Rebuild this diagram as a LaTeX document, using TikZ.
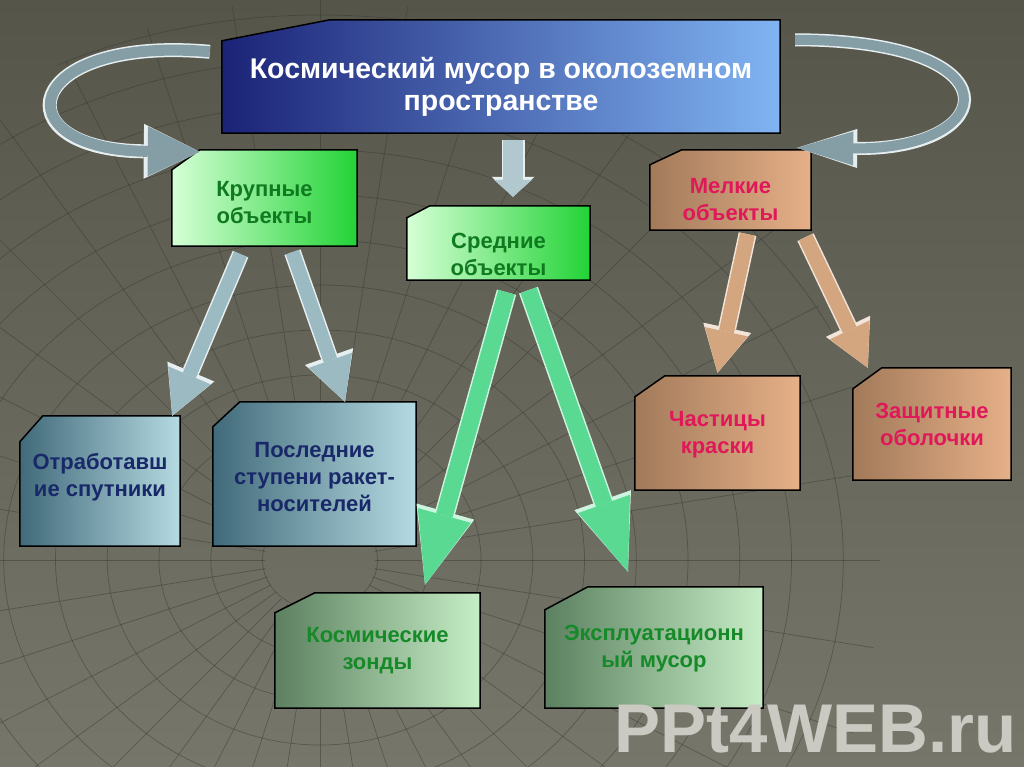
\documentclass[tikz,border=0pt]{standalone}
\usepackage{fontspec}
\setmainfont{Liberation Sans}
\usetikzlibrary{arrows.meta,backgrounds}

\definecolor{bgdark}{HTML}{56554A}
\definecolor{bglight}{HTML}{77766B}
\definecolor{gridcol}{HTML}{34342E}
\definecolor{navy}{HTML}{1B2377}
\definecolor{skyblue}{HTML}{80B4F2}
\definecolor{palegreen}{HTML}{D6FFD6}
\definecolor{brightgreen}{HTML}{22D336}
\definecolor{darkgreen}{HTML}{0F7A1F}
\definecolor{tandark}{HTML}{A27A5A}
\definecolor{tanlight}{HTML}{E6B088}
\definecolor{crimson}{HTML}{E0185A}
\definecolor{steeldark}{HTML}{416A7A}
\definecolor{steellight}{HTML}{B5DAE2}
\definecolor{inkblue}{HTML}{182868}
\definecolor{sagedark}{HTML}{5C8060}
\definecolor{sagelight}{HTML}{C6EEC6}
\definecolor{sagetext}{HTML}{168A28}
\definecolor{arrowsteel}{HTML}{9CBAC2}
\definecolor{arrowgreen}{HTML}{5AD992}
\definecolor{arrowtan}{HTML}{D4A680}
\definecolor{marktext}{HTML}{CACAC2}

\tikzset{
  every label/.style={align=center, font=\bfseries\fontsize{22}{27}\selectfont},
  box/.style={inner sep=0pt},
  gridline/.style={draw=gridcol, line width=0.7pt, opacity=0.45},
  titlebox/.style={left color=navy, right color=skyblue, draw=black, line width=1.5pt},
  greenbox/.style={left color=palegreen, right color=brightgreen, draw=black, line width=1.5pt},
  tanbox/.style={left color=tandark, right color=tanlight, draw=black, line width=1.5pt},
  steelbox/.style={left color=steeldark, right color=steellight, draw=black, line width=1.5pt},
  sagebox/.style={left color=sagedark, right color=sagelight, draw=black, line width=1.5pt},
  steelarrow/.style={draw=arrowsteel, line width=14pt, -{Triangle[width=46pt,length=44pt,line width=0pt]},
    preaction={draw=white!75!arrowsteel, line width=17pt, -{Triangle[width=51pt,length=48pt,line width=0pt]}}},
  downarrow/.style={draw=arrowsteel!80!white, line width=20pt, -{Triangle[width=38pt,length=17pt,line width=0pt]},
    preaction={draw=white!75!arrowsteel, line width=23pt, -{Triangle[width=43pt,length=20pt,line width=0pt]}}},
  greenarrow/.style={draw=arrowgreen, line width=17pt, -{Triangle[width=55pt,length=72pt,line width=0pt]},
    preaction={draw=white!70!arrowgreen, line width=20pt, -{Triangle[width=60pt,length=76pt,line width=0pt]}}},
  tanarrow/.style={draw=arrowtan, line width=15pt, -{Triangle[width=44pt,length=42pt,line width=0pt]},
    preaction={draw=white!70!arrowtan, line width=18pt, -{Triangle[width=49pt,length=46pt,line width=0pt]}}},
  loopleft/.style={draw=arrowsteel!85!black, line width=11pt, -{Triangle[width=50pt,length=52pt,line width=0pt]},
    preaction={draw=white!75!arrowsteel, line width=14pt, -{Triangle[width=55pt,length=56pt,line width=0pt]}}},
  loopright/.style={draw=arrowsteel!85!black, line width=10pt, -{Triangle[width=34pt,length=56pt,line width=0pt]},
    preaction={draw=white!75!arrowsteel, line width=13pt, -{Triangle[width=39pt,length=60pt,line width=0pt]}}}
}

\begin{document}
\begin{tikzpicture}[x=1pt,y=-1pt]
\useasboundingbox (0,0) rectangle (1024,767);

% boxes
\node[box, minimum width=558pt, minimum height=113pt,
  label={[text=white, font=\bfseries\fontsize{28.5}{32}\selectfont, yshift=-10pt]center:Космический мусор в околоземном\\пространстве}] (title) at (501,76.5) {};
\node[box, minimum width=185pt, minimum height=96pt,
  label={[text=darkgreen, yshift=-5pt]center:Крупные\\объекты}] (krup) at (264.5,198) {};
\node[box, minimum width=183pt, minimum height=74pt,
  label={[text=darkgreen, yshift=-11pt]center:Средние\\объекты}] (sred) at (498.5,243) {};
\node[box, minimum width=161pt, minimum height=80pt,
  label={[text=crimson, yshift=-10pt]center:Мелкие\\объекты}] (melk) at (730.5,190) {};
\node[box, minimum width=160pt, minimum height=130pt,
  label={[text=inkblue, yshift=4pt]center:Отработавш\\ие спутники}] (otrab) at (100,481) {};
\node[box, minimum width=203pt, minimum height=144pt,
  label={[text=inkblue, yshift=-3pt]center:Последние\\ступени ракет-\\носителей}] (posl) at (314.5,474) {};
\node[box, minimum width=205pt, minimum height=115pt,
  label={[text=sagetext, yshift=-0.5pt]center:Космические\\зонды}] (zond) at (377.5,650.5) {};
\node[box, minimum width=218pt, minimum height=121pt,
  label={[text=sagetext, yshift=-1pt]center:Эксплуатационн\\ый мусор}] (expl) at (654,647.5) {};
\node[box, minimum width=165pt, minimum height=114pt,
  label={[text=crimson, yshift=-2pt]center:Частицы\\краски}] (chast) at (717.5,433) {};
\node[box, minimum width=158pt, minimum height=112pt,
  label={[text=crimson]center:Защитные\\оболочки}] (zashch) at (932,424) {};

% watermark
\node[font=\bfseries\fontsize{69}{69}\selectfont, text=marktext, anchor=base west, inner sep=0pt] (mark) at (614,752) {PPt4WEB.ru};

% arrows
\draw[loopleft] ([xshift=-12pt,yshift=-32pt]title.north west) .. controls (20,35) and (0,150) .. ([xshift=28pt,yshift=-2pt]krup.north west);
\draw[loopright] ([xshift=15pt,yshift=-20pt]title.north east) .. controls (1020,40) and (1000,150) .. ([xshift=-14pt,yshift=2pt]melk.north east);
\draw[downarrow] ([xshift=12pt,yshift=-7pt]title.south) -- ([xshift=14.5pt,yshift=9pt]sred.north);
\draw[steelarrow] ([xshift=-24pt,yshift=-8pt]krup.south) -- ([xshift=-8pt]otrab.north east);
\draw[steelarrow] ([xshift=28pt,yshift=-6pt]krup.south) -- ([xshift=30.5pt]posl.north);
\draw[greenarrow] ([xshift=8pt,yshift=-12pt]sred.south) -- ([xshift=47.5pt,yshift=8pt]zond.north);
\draw[greenarrow] ([xshift=30pt,yshift=-10pt]sred.south) -- ([xshift=-26pt,yshift=15pt]expl.north);
\draw[tanarrow] ([xshift=17pt,yshift=-4pt]melk.south) -- ([yshift=3pt]chast.north);
\draw[tanarrow] ([xshift=75pt,yshift=-7pt]melk.south) -- ([xshift=15pt]zashch.north west);

\begin{scope}[on background layer]
  \shade[top color=bgdark, bottom color=bglight] (0,0) rectangle (1024,767);
  % web
  \begin{scope}
    \clip (320,560) circle (560pt);
    \foreach \r in {50,95,...,760}
      \draw[gridline] (320,560) ellipse ({1.15*\r pt} and {\r pt});
    \foreach \a in {0,9,...,351}
      \draw[gridline] (320,560) ++(\a:55pt) -- ++(\a:800pt);
  \end{scope}
  % box outlines with snipped corner
  \foreach \n/\cx/\cy/\s in {title/108/21/titlebox, krup/28/20/greenbox, sred/23/12/greenbox,
      melk/32/15/tanbox, otrab/23/26/steelbox, posl/27/25/steelbox, zond/40/20/sagebox,
      expl/43/23/sagebox, chast/30/21/tanbox, zashch/29/21/tanbox}
    \path[\s] ([yshift=-\cy pt]\n.north west) -- ([xshift=\cx pt]\n.north west) -- (\n.north east)
      -- (\n.south east) -- (\n.south west) -- cycle;
\end{scope}
\end{tikzpicture}
\end{document}
